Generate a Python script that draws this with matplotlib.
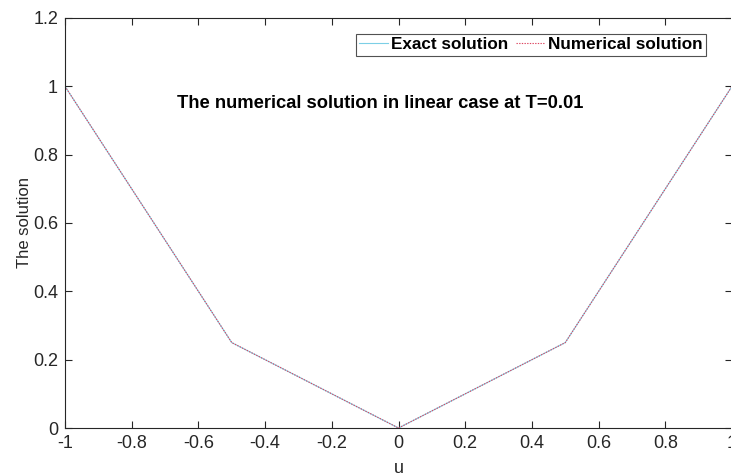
import matplotlib
matplotlib.use("Agg")
import matplotlib.pyplot as plt

# piecewise linear profile at T=0.01
u = [-1.0, -0.5, 0.0, 0.5, 1.0]
exact = [1.0, 0.25, 0.0, 0.25, 1.0]
numerical = [1.0, 0.25, 0.0, 0.25, 1.0]

x_ticks = [-1, -0.8, -0.6, -0.4, -0.2, 0, 0.2, 0.4, 0.6, 0.8, 1]
x_labels = ["-1", "-0.8", "-0.6", "-0.4", "-0.2", "0", "0.2", "0.4", "0.6", "0.8", "1"]
y_ticks = [0, 0.2, 0.4, 0.6, 0.8, 1, 1.2]
y_labels = ["0", "0.2", "0.4", "0.6", "0.8", "1", "1.2"]

plt.rcParams["font.family"] = ["Liberation Sans", "DejaVu Sans"]

fig = plt.figure(figsize=(7.31, 4.73), dpi=100)
ax = fig.add_axes([0.0889, 0.0951, 0.9125, 0.8669])

ax.plot(u, exact, color="#7ccfe6", lw=0.8, label="Exact solution")
ax.plot(u, numerical, color="#dc4560", lw=0.8, ls=(0, (1.2, 1.2)), label="Numerical solution")

ax.set_xlim(-1, 1)
ax.set_ylim(0, 1.2)
ax.set_xticks(x_ticks)
ax.set_xticklabels(x_labels)
ax.set_yticks(y_ticks)
ax.set_yticklabels(y_labels)
ax.tick_params(direction="in", top=True, right=True, length=5, width=0.8,
               colors="#262626", labelsize=13, labelcolor="#262626", pad=5)
for s in ax.spines.values():
    s.set_color("#262626")
    s.set_linewidth(0.8)

ax.set_xlabel("u", fontsize=13, color="#262626", labelpad=6)
ax.set_ylabel("The solution", fontsize=12, color="#262626", labelpad=1)

ax.text(-0.055, 0.95, "The numerical solution in linear case at T=0.01",
        fontsize=13.2, fontweight="bold", ha="center", va="center")

leg = ax.legend(loc="upper right", bbox_to_anchor=(0.961, 0.961), ncol=2,
                prop={"weight": "bold", "size": 12.3}, frameon=True, fancybox=False,
                handlelength=1.7, handletextpad=0.2, columnspacing=0.4,
                borderpad=0.2, borderaxespad=0)
leg.get_frame().set_edgecolor("#262626")
leg.get_frame().set_linewidth(0.8)

fig.savefig("out.png", dpi=100)
